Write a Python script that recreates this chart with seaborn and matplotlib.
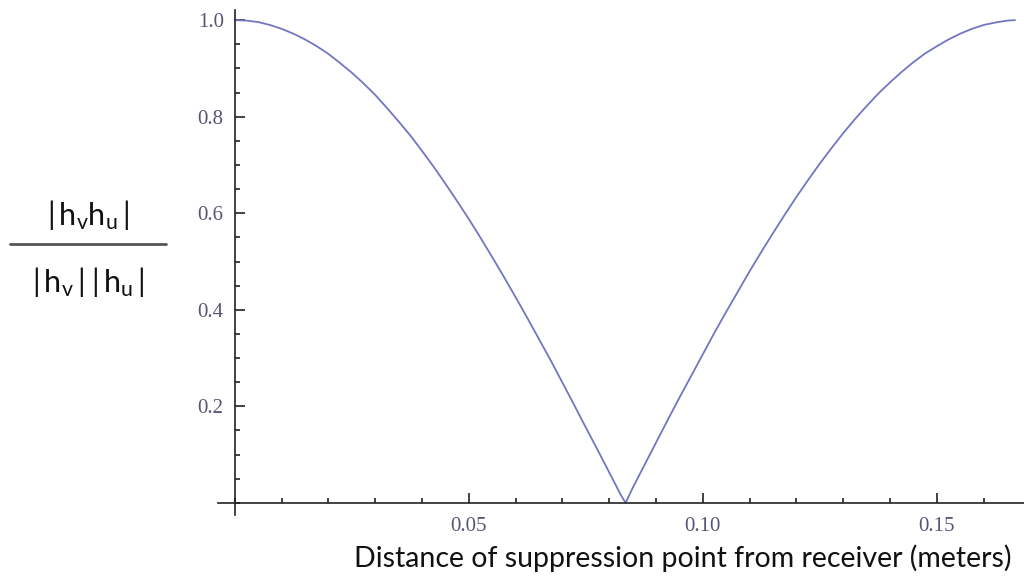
import matplotlib
matplotlib.use("Agg")
import matplotlib.pyplot as plt
import seaborn as sns
import pandas as pd
from matplotlib.ticker import MultipleLocator, FixedLocator, FixedFormatter
from matplotlib.lines import Line2D

# data
distance = [0.0000, 0.0025, 0.0050, 0.0075, 0.0100, 0.0125, 0.0150, 0.0175, 0.0200, 0.0225,
            0.0250, 0.0275, 0.0300, 0.0325, 0.0350, 0.0375, 0.0400, 0.0425, 0.0450, 0.0475,
            0.0500, 0.0525, 0.0550, 0.0575, 0.0600, 0.0625, 0.0650, 0.0675, 0.0700, 0.0725,
            0.0750, 0.0775, 0.0800, 0.0825, 0.0835, 0.0850, 0.0875, 0.0900, 0.0925, 0.0950,
            0.0975, 0.1000, 0.1025, 0.1050, 0.1075, 0.1100, 0.1125, 0.1150, 0.1175, 0.1200,
            0.1225, 0.1250, 0.1275, 0.1300, 0.1325, 0.1350, 0.1375, 0.1400, 0.1425, 0.1450,
            0.1475, 0.1500, 0.1525, 0.1550, 0.1575, 0.1600, 0.1625, 0.1650, 0.1667]
ratio = [1.000, 0.999, 0.996, 0.990, 0.982, 0.972, 0.960, 0.946, 0.930, 0.911,
         0.891, 0.869, 0.845, 0.818, 0.790, 0.761, 0.729, 0.696, 0.661, 0.625,
         0.588, 0.549, 0.509, 0.468, 0.426, 0.383, 0.339, 0.295, 0.249, 0.203,
         0.156, 0.110, 0.063, 0.016, 0.000, 0.031, 0.078, 0.125, 0.172, 0.218,
         0.263, 0.308, 0.353, 0.396, 0.438, 0.480, 0.520, 0.559, 0.597, 0.634,
         0.669, 0.703, 0.735, 0.766, 0.795, 0.822, 0.848, 0.871, 0.893, 0.913,
         0.931, 0.946, 0.960, 0.972, 0.982, 0.990, 0.995, 0.999, 1.000]
x_ticks = [0.05, 0.10, 0.15]
x_tick_labels = ["0.05", "0.10", "0.15"]
y_ticks = [0.2, 0.4, 0.6, 0.8, 1.0]
y_tick_labels = ["0.2", "0.4", "0.6", "0.8", "1.0"]
x_label = "Distance of suppression point from receiver (meters)"

sns.set_style("white")
plt.rcParams["font.family"] = ["Lato", "DejaVu Sans"]
plt.rcParams["mathtext.fontset"] = "custom"
plt.rcParams["mathtext.rm"] = "Lato"
plt.rcParams["mathtext.it"] = "Lato"

df = pd.DataFrame({"x": distance, "y": ratio})

fig = plt.figure(figsize=(10.24, 5.85), dpi=100)
ax = fig.add_axes([0.2129, 0.1197, 0.787, 0.8632])
sns.lineplot(data=df, x="x", y="y", ax=ax, color="#7276c2", linewidth=1.3, sort=False)

ax.set_xlim(-0.0036, 0.1686)
ax.set_ylim(-0.025, 1.021)

for s in ["top", "right"]:
    ax.spines[s].set_visible(False)
ax.spines["left"].set_position(("data", 0))
ax.spines["bottom"].set_position(("data", 0))
for s in ["left", "bottom"]:
    ax.spines[s].set_color("#222222")
    ax.spines[s].set_linewidth(1.2)

ax.xaxis.set_major_locator(FixedLocator(x_ticks))
ax.xaxis.set_major_formatter(FixedFormatter(x_tick_labels))
ax.xaxis.set_minor_locator(MultipleLocator(0.01))
ax.yaxis.set_major_locator(FixedLocator(y_ticks))
ax.yaxis.set_major_formatter(FixedFormatter(y_tick_labels))
ax.yaxis.set_minor_locator(MultipleLocator(0.05))

ax.tick_params(which="both", direction="in", color="#222222", width=1.2,
               bottom=True, left=True, top=False, right=False)
ax.tick_params(which="major", length=7)
ax.tick_params(which="minor", length=3.5)
ax.tick_params(axis="x", which="major", pad=10)
ax.tick_params(axis="y", which="major", pad=8)
for lab in ax.get_xticklabels() + ax.get_yticklabels():
    lab.set_fontfamily(["Liberation Serif", "DejaVu Serif"])
    lab.set_fontsize(15)
    lab.set_color("#555577")

ax.set_xlabel("")
ax.set_ylabel("")
fig.text(0.667, 0.046, x_label, ha="center", va="center", fontsize=20.5, color="#111111")

# fraction-style y label
fig.text(0.086, 0.632, r"$\mathrm{|\,h_vh_u\,|}$", ha="center", va="center", fontsize=22, color="#111111")
fig.text(0.086, 0.518, r"$\mathrm{|\,h_v\,|\;|\,h_u\,|}$", ha="center", va="center", fontsize=22, color="#111111")
fig.add_artist(Line2D([0.01, 0.162], [0.583, 0.583], transform=fig.transFigure, color="#555555", linewidth=2))

fig.savefig("out.png", dpi=100)
